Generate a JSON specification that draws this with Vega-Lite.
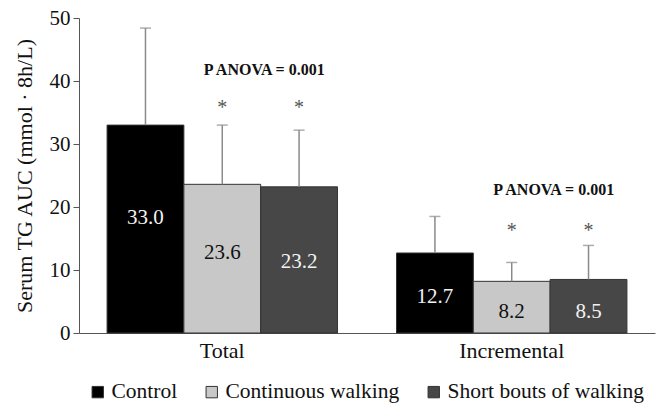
{
  "$schema": "https://vega.github.io/schema/vega-lite/v6.json",
  "width": 576,
  "height": 315,
  "autosize": "none",
  "padding": {"left": 79, "top": 18, "right": 6, "bottom": 74},
  "background": "white",
  "config": {
    "font": "Liberation Serif",
    "text": {"font": "Liberation Serif"},
    "axis": {"labelFont": "Liberation Serif", "titleFont": "Liberation Serif"},
    "legend": {"labelFont": "Liberation Serif", "titleFont": "Liberation Serif"},
    "view": {"stroke": null}
  },
  "datasets": {
    "bars": [
      {"group": "Total", "series": "Control", "value": 33.0, "upper": 48.4, "labelY": 18.2, "star": null},
      {"group": "Total", "series": "Continuous walking", "value": 23.6, "upper": 33.0, "labelY": 12.7, "star": 36.3},
      {"group": "Total", "series": "Short bouts of walking", "value": 23.2, "upper": 32.2, "labelY": 11.3, "star": 36.3},
      {"group": "Incremental", "series": "Control", "value": 12.7, "upper": 18.5, "labelY": 5.7, "star": null},
      {"group": "Incremental", "series": "Continuous walking", "value": 8.2, "upper": 11.2, "labelY": 3.3, "star": 16.8},
      {"group": "Incremental", "series": "Short bouts of walking", "value": 8.5, "upper": 13.9, "labelY": 3.3, "star": 16.8}
    ],
    "anova": [
      {"group": "Total", "text": "P ANOVA  = 0.001", "y": 41.7},
      {"group": "Incremental", "text": "P ANOVA  = 0.001", "y": 22.7}
    ]
  },
  "encoding": {
    "x": {
      "field": "group", "type": "nominal",
      "sort": ["Total", "Incremental"],
      "scale": {"paddingInner": 0.204, "paddingOuter": 0.097},
      "axis": {"title": null, "labelAngle": 0, "ticks": false, "labelFont": "Liberation Serif", "labelFontSize": 22, "labelColor": "#111", "labelPadding": 7, "domainColor": "#555", "domainWidth": 1.2}
    }
  },
  "layer": [
    {
      "data": {"name": "bars"},
      "mark": {"type": "bar", "stroke": "#333", "strokeWidth": 1},
      "encoding": {
        "xOffset": {"field": "series", "type": "nominal", "sort": ["Control", "Continuous walking", "Short bouts of walking"], "scale": {"paddingInner": 0, "paddingOuter": 0}},
        "y": {
          "field": "value", "type": "quantitative",
          "scale": {"domain": [0, 50], "nice": false},
          "axis": {"title": "Serum TG AUC (mmol · 8h/L)", "titleFont": "Liberation Serif", "titleFontSize": 22, "titleFontWeight": "normal", "titleColor": "#111", "titlePadding": 13, "grid": false, "values": [0, 10, 20, 30, 40, 50], "labelFont": "Liberation Serif", "labelFontSize": 21, "labelColor": "#111", "tickSize": 6, "tickColor": "#555", "domainColor": "#555", "labelPadding": 3}
        },
        "color": {
          "field": "series", "type": "nominal",
          "sort": ["Control", "Continuous walking", "Short bouts of walking"],
          "scale": {"domain": ["Control", "Continuous walking", "Short bouts of walking"], "range": ["#000000", "#c8c8c8", "#474747"]},
          "legend": {"title": null, "orient": "none", "legendX": 8, "legendY": 363, "direction": "horizontal", "symbolType": "square", "symbolSize": 130, "symbolStrokeColor": "#333", "symbolStrokeWidth": 1, "labelFont": "Liberation Serif", "labelFontSize": 21.5, "labelColor": "#111", "columnPadding": 23, "labelOffset": 3, "labelLimit": 300}
        }
      }
    },
    {
      "data": {"name": "bars"},
      "mark": {"type": "rule", "color": "#8a8a8a", "strokeWidth": 1.5},
      "encoding": {
        "xOffset": {"field": "series", "type": "nominal", "sort": ["Control", "Continuous walking", "Short bouts of walking"]},
        "y": {"field": "value", "type": "quantitative"},
        "y2": {"field": "upper"}
      }
    },
    {
      "data": {"name": "bars"},
      "mark": {"type": "tick", "color": "#8a8a8a", "thickness": 1.5, "size": 11, "orient": "horizontal"},
      "encoding": {
        "xOffset": {"field": "series", "type": "nominal", "sort": ["Control", "Continuous walking", "Short bouts of walking"]},
        "y": {"field": "upper", "type": "quantitative"}
      }
    },
    {
      "data": {"name": "bars"},
      "mark": {"type": "text", "font": "Liberation Serif", "fontSize": 21, "baseline": "middle"},
      "encoding": {
        "xOffset": {"field": "series", "type": "nominal", "sort": ["Control", "Continuous walking", "Short bouts of walking"]},
        "y": {"field": "labelY", "type": "quantitative"},
        "text": {"field": "value", "type": "quantitative", "format": ".1f"},
        "color": {"condition": {"test": "datum.series === 'Continuous walking'", "value": "#111"}, "value": "#f2f2f2"}
      }
    },
    {
      "data": {"name": "bars"},
      "transform": [{"filter": "datum.star != null"}],
      "mark": {"type": "text", "font": "Liberation Serif", "fontSize": 20, "baseline": "middle", "color": "#555", "dy": 4},
      "encoding": {
        "xOffset": {"field": "series", "type": "nominal", "sort": ["Control", "Continuous walking", "Short bouts of walking"]},
        "y": {"field": "star", "type": "quantitative"},
        "text": {"value": "*"}
      }
    },
    {
      "data": {"name": "anova"},
      "mark": {"type": "text", "font": "Liberation Serif", "fontSize": 16, "fontWeight": "bold", "baseline": "middle", "align": "center", "dx": 42, "color": "#111"},
      "encoding": {
        "y": {"field": "y", "type": "quantitative"},
        "text": {"field": "text"}
      }
    }
  ]
}
